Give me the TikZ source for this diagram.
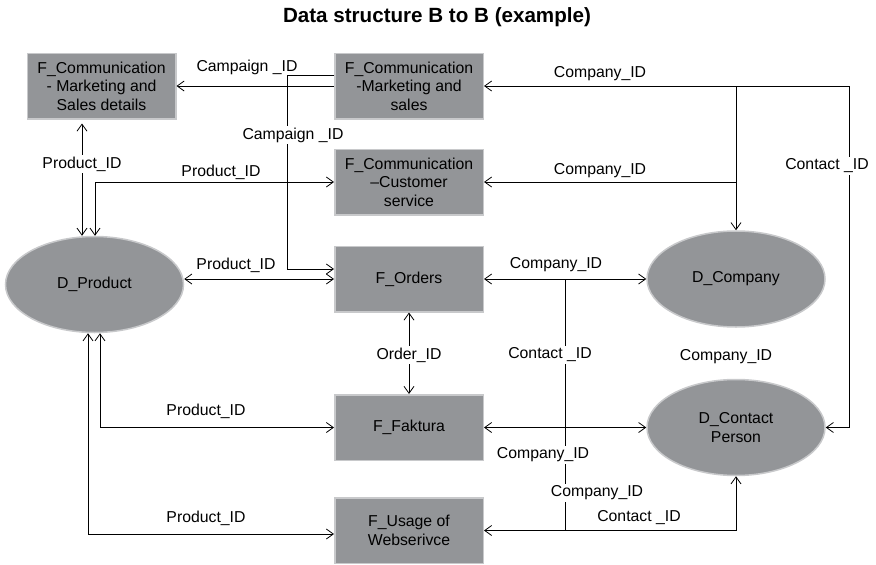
\documentclass[tikz,border=0pt]{standalone}
\usepackage{fontspec}
\setmainfont{Liberation Sans}
\usetikzlibrary{arrows.meta,shapes.geometric}
\definecolor{boxgray}{RGB}{147,149,152}
\definecolor{edgegray}{RGB}{200,201,203}
\definecolor{linkblack}{RGB}{0,0,0}
\newcommand{\lblfont}{\fontsize{15.8}{18.5}\selectfont}

\begin{document}
\begin{tikzpicture}[
        x=1pt, y=-1pt,
        fact/.style={rectangle, draw=edgegray, line width=1.5pt, fill=boxgray, minimum width=148.5pt, minimum height=65.5pt, inner sep=0pt, align=center, font=\lblfont},
        dim/.style={ellipse, draw=edgegray, line width=1.5pt, fill=boxgray, minimum width=178pt, minimum height=96pt, inner sep=0pt, align=center, font=\lblfont},
        lbl/.style={inner sep=1pt, font=\lblfont},
        cut/.style={lbl, fill=white, inner sep=2pt},
        link/.style={-{Straight Barb[length=7pt,width=10pt]}, line width=0.8pt, color=linkblack},
        dlink/.style={{Straight Barb[length=7pt,width=10pt]}-{Straight Barb[length=7pt,width=10pt]}, line width=0.8pt, color=linkblack},
        plain/.style={line width=0.8pt, color=linkblack}
    ]
    \useasboundingbox (0,0) rectangle (876,565);

    % Title
    \node[font=\fontsize{20.6}{24}\selectfont\bfseries] (title) at (437,17) {Data structure B to B (example)};

    % Fact tables
    \node[fact] (fmsd) at (101.5,86) {F\_Communication\\- Marketing and\\Sales details};
    \node[fact] (fms) at (409,86) {F\_Communication\\-Marketing and\\sales};
    \node[fact] (fcs) at (409,182) {F\_Communication\\–Customer\\service};
    \node[fact] (orders) at (409,279) {F\_Orders};
    \node[fact] (faktura) at (409,427.5) {F\_Faktura};
    \node[fact] (usage) at (409,530.5) {F\_Usage of\\Webserivce};

    % Dimensions
    \node[dim] (dprod) at (94.5,284.5) {D\_Product};
    \node[dim] (dcomp) at (736,279) {D\_Company};
    \node[dim] (dcont) at (736,427.5) {D\_Contact\\Person};

    % Bends
    \coordinate (campbend) at (287,269);
    \coordinate (ctop) at (849,86);
    \coordinate (cmid) at (565,279);

    % Campaign flows
    \draw[link] (fms.west) -- (fmsd.east);
    \draw[link] ([yshift=11pt]fms.west) -| (campbend) -- (campbend -| orders.west);

    % Product flows
    \draw[dlink] ([xshift=-19.5pt,yshift=-4pt]fmsd.south) -- ([xshift=-12.5pt]dprod.north);
    \draw[dlink] ([xshift=0.5pt]dprod.north) |- (fcs.west);
    \draw[dlink] (orders.west -| dprod.east) -- (orders.west);
    \draw[dlink] ([xshift=5.5pt]dprod.south) |- (faktura.west);
    \draw[dlink] ([xshift=-6.5pt]dprod.south) |- ([yshift=-3.5pt]usage.west);
    \draw[dlink] (orders.south) -- (faktura.north);

    % Company and contact flows
    \draw[dlink] (fms.east) -| (dcomp.north);
    \draw[link] (fms.east -| dcomp.north) -- (ctop) |- (dcont.east);
    \draw[link] (fcs.east -| dcomp.north) -- (fcs.east);
    \draw[dlink] (orders.east) -- (dcomp.west);
    \draw[plain] (cmid) -- (cmid |- usage.east);
    \draw[dlink] (faktura.east) -- (dcont.west);
    \draw[dlink] (usage.east) -| (dcont.south);

    % Labels
    \node[lbl] (l1) at (247,67) {Campaign \_ID};
    \node[cut] (l2) at (293,135) {Campaign \_ID};
    \node[cut] (l3) at (82,164) {Product\_ID};
    \node[lbl] (l4) at (221,172) {Product\_ID};
    \node[lbl] (l5) at (236,265) {Product\_ID};
    \node[cut] (l6) at (409,355) {Order\_ID};
    \node[lbl] (l7) at (206,411) {Product\_ID};
    \node[lbl] (l8) at (206,518) {Product\_ID};
    \node[lbl] (l9) at (600,74) {Company\_ID};
    \node[lbl] (l10) at (600,171) {Company\_ID};
    \node[cut] (l11) at (827,166) {Contact \_ID};
    \node[lbl] (l12) at (556,265) {Company\_ID};
    \node[cut] (l13) at (550,355) {Contact \_ID};
    \node[lbl] (l14) at (726,357) {Company\_ID};
    \node[cut] (l15) at (543,455) {Company\_ID};
    \node[cut] (l16) at (597,493) {Company\_ID};
    \node[lbl] (l17) at (639,518) {Contact \_ID};

\end{tikzpicture}
\end{document}
